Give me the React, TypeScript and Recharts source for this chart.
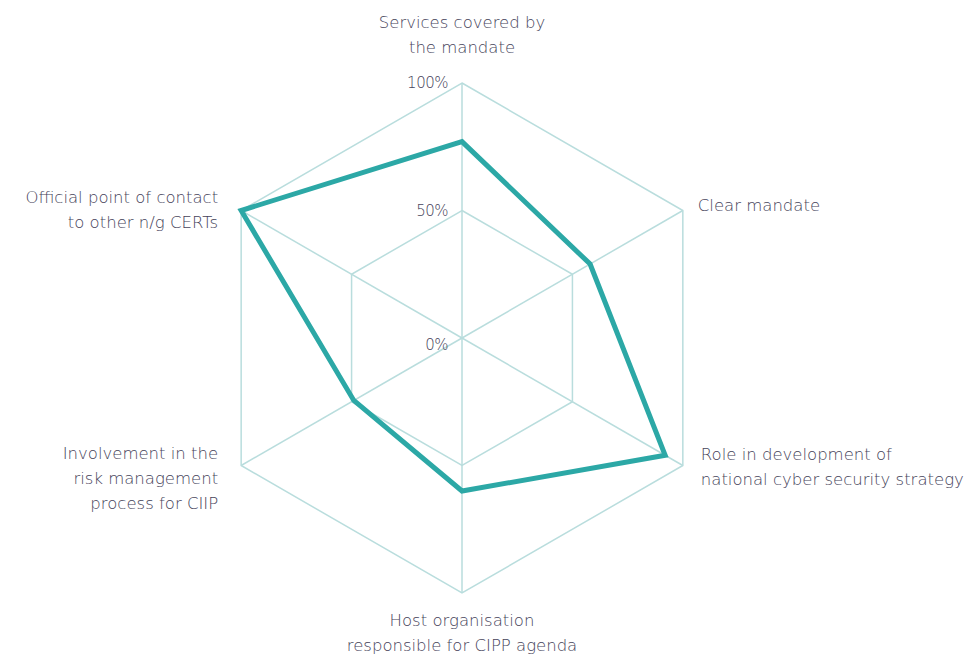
import { RadarChart, Radar, PolarGrid, PolarAngleAxis, PolarRadiusAxis } from 'recharts';

const categories = [
    'Services covered by\nthe mandate',
    'Clear mandate',
    'Role in development of\nnational cyber security strategy',
    'Host organisation\nresponsible for CIPP agenda',
    'Involvement in the\nrisk management\nprocess for CIIP',
    'Official point of contact\nto other n/g CERTs',
];
const scores = [77, 58, 92, 60, 49, 100];
const radiusTicks = [0, 50, 100];
const tickLabels = ['0%', '50%', '100%'];

const chartData = categories.map((name, i) => ({ name, value: scores[i] }));

const CX = 462;
const CY = 338;
const R = 255;
const TEXT = '#46435a';
const FONT = '"DejaVu Sans", sans-serif';
const LINE_H = 25;

// where each category label sits relative to its outer vertex
const labelLayout = [
    { dx: 0, dy: -61, anchor: 'middle' },
    { dx: 15, dy: -6, anchor: 'start' },
    { dx: 18, dy: -12, anchor: 'start' },
    { dx: 0, dy: 27, anchor: 'middle' },
    { dx: -23, dy: -13, anchor: 'end' },
    { dx: -23, dy: -14, anchor: 'end' },
];

function AngleTick(props: any) {
    const { index, payload } = props;
    const angle = ((90 - index * 60) * Math.PI) / 180;
    const vx = CX + R * Math.cos(angle);
    const vy = CY - R * Math.sin(angle);
    const lay = labelLayout[index];
    const lines = String(payload.value).split('\n');
    return (
        <text
            x={vx + lay.dx}
            y={vy + lay.dy}
            textAnchor={lay.anchor}
            dominantBaseline="central"
            fill={TEXT}
            fontSize={16.5}
            fontFamily={FONT}
            fontWeight={300}
        >
            {lines.map((l, i) => (
                <tspan key={i} x={vx + lay.dx} dy={i === 0 ? 0 : LINE_H}>
                    {l}
                </tspan>
            ))}
        </text>
    );
}

function RadiusTick(props: any) {
    const { payload } = props;
    const v = payload.value as number;
    const y = CY - (v / 100) * R + (v === 0 ? 7 : 0);
    return (
        <text
            x={CX - 14}
            y={y}
            textAnchor="end"
            dominantBaseline="central"
            fill={TEXT}
            fontSize={15}
            fontFamily={FONT}
            fontWeight={300}
            letterSpacing={-0.5}
        >
            {tickLabels[radiusTicks.indexOf(v)]}
        </text>
    );
}

export default function App() {
    return (
        <div style={{ position: 'absolute', left: 0, top: 0, width: 969, height: 655, background: '#fff' }}>
            <RadarChart width={969} height={655} data={chartData} cx={CX} cy={CY} outerRadius={R}>
                <PolarGrid stroke="#b9dddd" strokeWidth={1.5} />
                <PolarAngleAxis dataKey="name" tick={<AngleTick />} tickLine={false} axisLine={false} />
                <PolarRadiusAxis
                    angle={90}
                    domain={[0, 100]}
                    ticks={radiusTicks}
                    tick={<RadiusTick />}
                    axisLine={false}
                    tickLine={false}
                />
                <Radar
                    dataKey="value"
                    stroke="#2ca8a6"
                    strokeWidth={5}
                    fill="none"
                    fillOpacity={0}
                    strokeLinejoin="miter"
                    isAnimationActive={false}
                />
            </RadarChart>
        </div>
    );
}
